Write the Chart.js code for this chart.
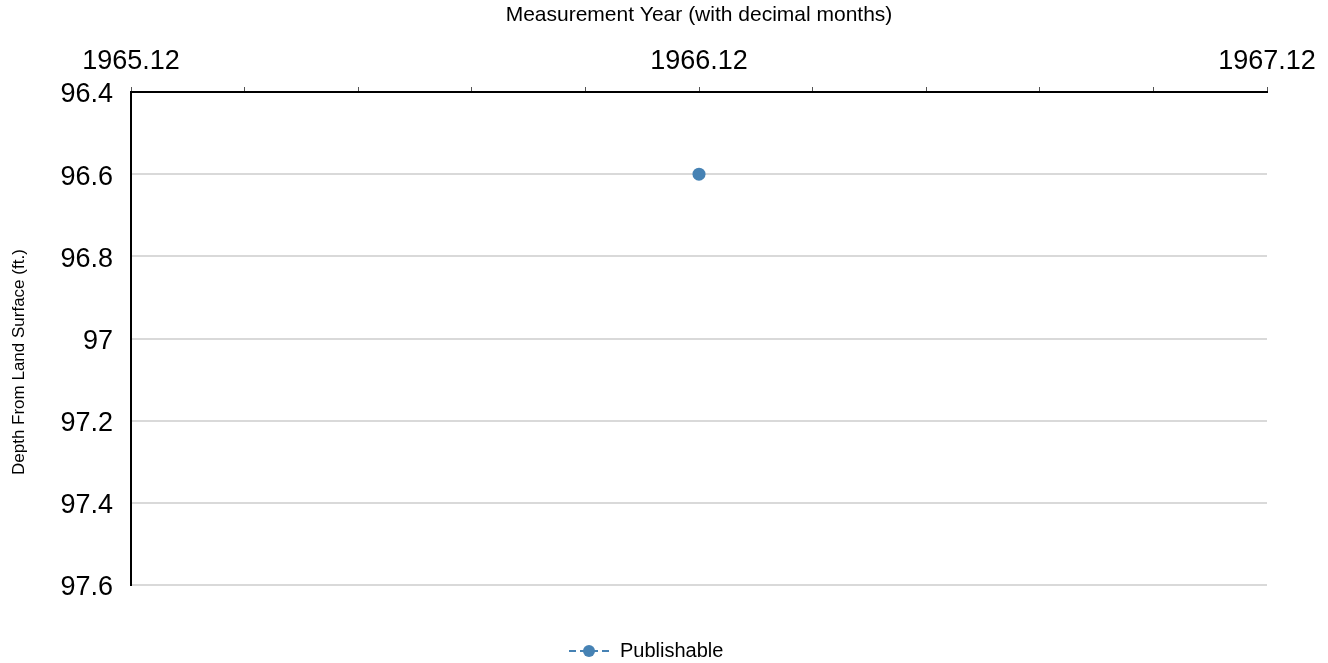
<!DOCTYPE html>
<html>
<head>
<meta charset="utf-8">
<script src="https://cdn.jsdelivr.net/npm/chart.js@4"></script>
<style>
  html, body { margin: 0; padding: 0; background: #fff; }
  #wrap { width: 1328px; height: 663px; }
</style>
</head>
<body>
<div id="wrap"><canvas id="levelChart"></canvas></div>
<script>
// data
const seriesName = 'Publishable';
const years = [1966.12];
const depths = [96.6];

const xMajorTicks = [1965.12, 1966.12, 1967.12];
const xMinorTicks = [1965.32, 1965.52, 1965.72, 1965.92, 1966.32, 1966.52, 1966.72, 1966.92];
const yTicks = [96.4, 96.6, 96.8, 97, 97.2, 97.4, 97.6];

const blue = '#4682b4';
const FONT = "'Liberation Sans', Arial, sans-serif";

// legend marker: dashed line with a dot in the middle
function legendMarker() {
    const c = document.createElement('canvas');
    c.width = 42; c.height = 14;
    const g = c.getContext('2d');
    g.strokeStyle = blue;
    g.lineWidth = 2;
    g.setLineDash([7, 4]);
    g.beginPath();
    g.moveTo(1, 7); g.lineTo(41, 7);
    g.stroke();
    g.fillStyle = blue;
    g.beginPath();
    g.arc(21, 7, 6, 0, Math.PI * 2);
    g.fill();
    return c;
}

// bottom legend drawn by hand so it can sit well below the plot
const bottomLegend = {
    id: 'bottomLegend',
    afterDraw(chart) {
        const g = chart.ctx;
        const marker = legendMarker();
        const y = 651;
        const x0 = 568;
        g.save();
        g.drawImage(marker, x0, y - marker.height / 2);
        g.fillStyle = '#000';
        g.font = '20px ' + FONT;
        g.textBaseline = 'middle';
        g.textAlign = 'left';
        g.fillText(chart.data.datasets[0].label, x0 + marker.width + 10, y);
        g.restore();
    }
};

const ctx = document.getElementById('levelChart').getContext('2d');

new Chart(ctx, {
    type: 'scatter',
    data: {
        datasets: [{
            label: seriesName,
            data: years.map((y, i) => ({ x: y, y: depths[i] })),
            showLine: true,
            borderColor: blue,
            backgroundColor: blue,
            borderDash: [6, 4],
            borderWidth: 2,
            pointRadius: 6.5,
            pointHoverRadius: 6.5,
            pointBorderWidth: 0
        }]
    },
    plugins: [bottomLegend],
    options: {
        responsive: true,
        maintainAspectRatio: false,
        animation: false,
        layout: {
            padding: { top: 0, right: 61, bottom: 78, left: 0 }
        },
        plugins: {
            tooltip: { enabled: false },
            legend: { display: false }
        },
        scales: {
            x: {
                type: 'linear',
                position: 'top',
                min: xMajorTicks[0],
                max: xMajorTicks[xMajorTicks.length - 1],
                afterBuildTicks: (scale) => {
                    scale.ticks = xMajorTicks.concat(xMinorTicks)
                        .sort((a, b) => a - b)
                        .map(v => ({ value: v, major: xMajorTicks.includes(v) }));
                },
                afterFit: (scale) => { scale.height = 92; },
                ticks: {
                    autoSkip: false,
                    maxRotation: 0,
                    color: '#000',
                    padding: 9,
                    font: { family: FONT, size: 27 },
                    callback: function (value) {
                        return xMajorTicks.includes(value) ? value.toFixed(2) : '';
                    }
                },
                grid: {
                    drawOnChartArea: false,
                    drawTicks: true,
                    tickLength: 5,
                    color: '#555',
                    lineWidth: 1
                },
                border: { display: true, color: '#000', width: 2 },
                title: {
                    display: true,
                    text: 'Measurement Year (with decimal months)',
                    color: '#000',
                    font: { family: FONT, size: 21 },
                    padding: { top: 3, bottom: 0 }
                }
            },
            y: {
                type: 'linear',
                reverse: true,
                min: yTicks[0],
                max: yTicks[yTicks.length - 1],
                afterBuildTicks: (scale) => {
                    scale.ticks = yTicks.map(v => ({ value: v }));
                },
                afterFit: (scale) => { scale.width = 131; },
                ticks: {
                    color: '#000',
                    padding: 18,
                    labelOffset: 3,
                    font: { family: FONT, size: 27 },
                    callback: (value) => String(value)
                },
                grid: {
                    drawTicks: false,
                    color: '#d9d9d9',
                    lineWidth: 2
                },
                border: { display: true, color: '#000', width: 2 },
                title: {
                    display: true,
                    // trailing spaces nudge the title down as in the original
                    text: 'Depth From Land Surface (ft.)          ',
                    color: '#000',
                    font: { family: FONT, size: 17 },
                    padding: { top: 9, bottom: 0 }
                }
            }
        }
    }
});
</script>
</body>
</html>
